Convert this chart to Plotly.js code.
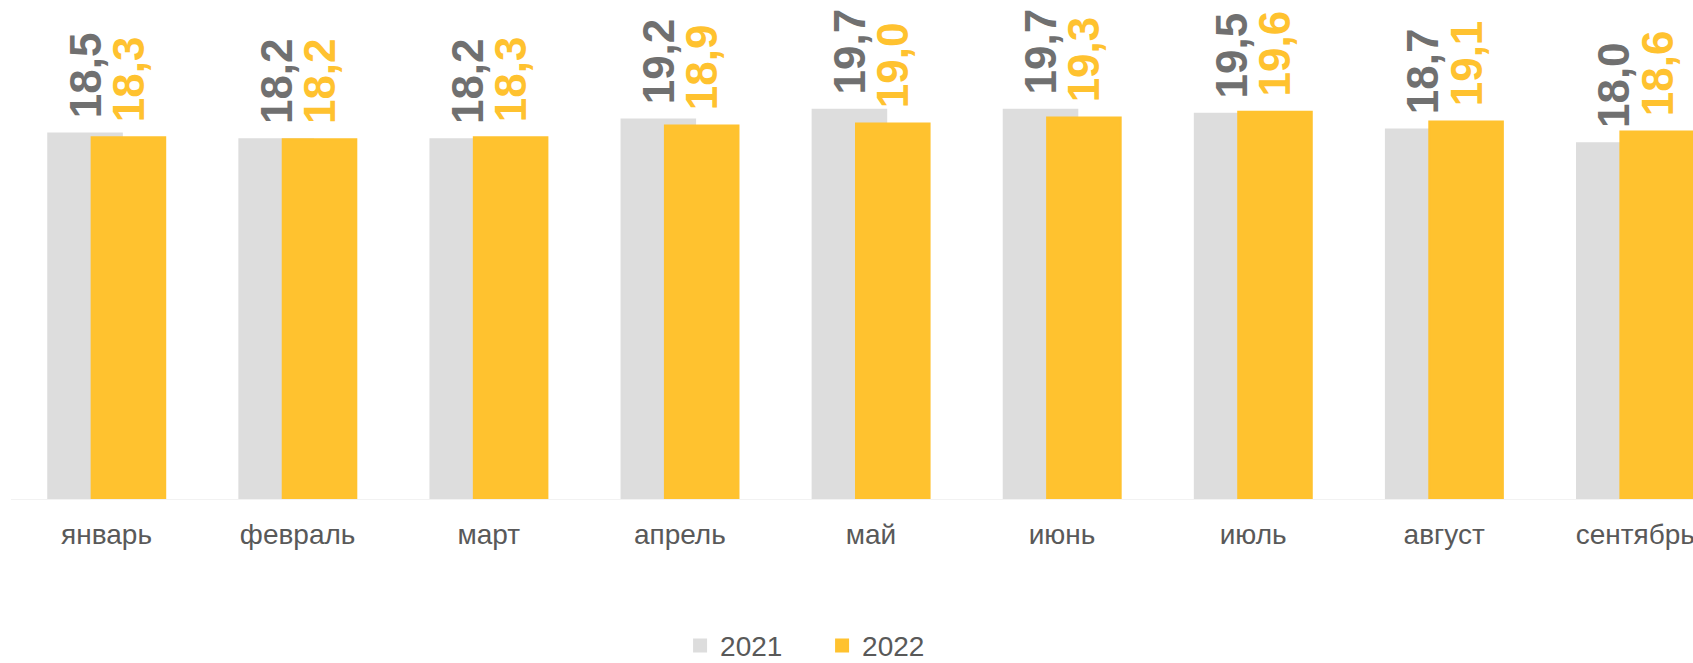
<!DOCTYPE html>
<html>
<head>
<meta charset="utf-8">
<script src="https://cdn.plot.ly/plotly-3.0.1.min.js"></script>
<style>
html, body { margin: 0; padding: 0; background: #ffffff; }
#chart { width: 1693px; height: 663px; }
</style>
</head>
<body>
<div id="chart"></div>
<script>
const months = ["январь", "февраль", "март", "апрель", "май", "июнь", "июль", "август", "сентябрь"];
const values2021 = [18.5, 18.2, 18.2, 19.2, 19.7, 19.7, 19.5, 18.7, 18.0];
const values2022 = [18.3, 18.2, 18.3, 18.9, 19.0, 19.3, 19.6, 19.1, 18.6];
const seriesNames = ["2021", "2022"];

const grayBar = "#DDDDDD";
const grayText = "#707070";
const yellow = "#FFC22F";
const labelFont = "Liberation Sans, Arial, sans-serif";

const traces = [
  {
    type: "bar",
    name: seriesNames[0],
    x: months,
    y: values2021,
    width: 0.385,
    offset: -0.305,
    marker: { color: grayBar, line: { color: grayBar, width: 2 } },
    texttemplate: "\u00a0%{y:.1f}",
    textposition: "outside",
    textangle: -90,
    constraintext: "none",
    cliponaxis: false,
    textfont: { family: labelFont, size: 44, color: grayText, weight: 700 },
    hoverinfo: "skip"
  },
  {
    type: "bar",
    name: seriesNames[1],
    x: months,
    y: values2022,
    width: 0.385,
    offset: -0.078,
    marker: { color: yellow, line: { color: yellow, width: 2 } },
    texttemplate: "\u00a0%{y:.1f}",
    textposition: "outside",
    textangle: -90,
    constraintext: "none",
    cliponaxis: false,
    textfont: { family: labelFont, size: 44, color: yellow, weight: 700 },
    hoverinfo: "skip"
  }
];

const layout = {
  width: 1693,
  height: 663,
  margin: { l: 11, r: 0, t: 0, b: 164, autoexpand: false },
  paper_bgcolor: "#ffffff",
  plot_bgcolor: "#ffffff",
  separators: ", ",
  barmode: "overlay",
  showlegend: true,
  hovermode: false,
  font: { family: labelFont, color: "#595959" },
  xaxis: {
    type: "category",
    range: [-0.5, 8.302],
    showline: true,
    linecolor: "#F2F2F2",
    linewidth: 1,
    showgrid: false,
    zeroline: false,
    ticks: "",
    automargin: false,
    tickfont: { family: labelFont, size: 28, color: "#595959" },
    ticklabelstandoff: 10,
    fixedrange: true
  },
  yaxis: {
    range: [0, 25.25],
    visible: false,
    showgrid: false,
    zeroline: false,
    fixedrange: true
  },
  legend: {
    orientation: "h",
    xref: "container",
    yref: "container",
    x: 0.4017,
    xanchor: "left",
    y: 0.026,
    yanchor: "middle",
    entrywidth: 97,
    entrywidthmode: "pixels",
    font: { family: labelFont, size: 28, color: "#595959" },
    bgcolor: "rgba(0,0,0,0)"
  }
};

Plotly.newPlot("chart", traces, layout, { displayModeBar: false, staticPlot: true });
</script>
</body>
</html>
